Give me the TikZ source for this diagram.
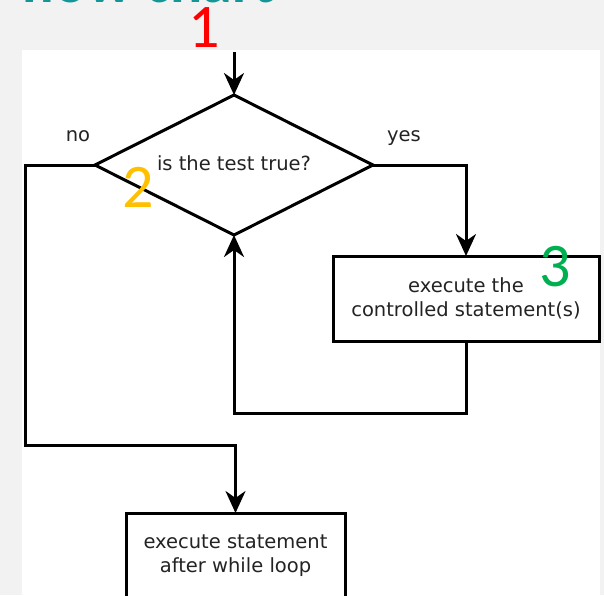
\documentclass[tikz,border=0pt]{standalone}
\usepackage{fontspec}
\setmainfont{DejaVu Sans}
\newfontfamily\digitfont{Carlito}
\usetikzlibrary{shapes.geometric,arrows.meta}
\definecolor{slideteal}{RGB}{20,150,150}
\definecolor{numred}{RGB}{255,0,0}
\definecolor{numorange}{RGB}{255,192,0}
\definecolor{numgreen}{RGB}{0,176,80}
\definecolor{boxtext}{RGB}{35,35,35}

\begin{document}
\begin{tikzpicture}[x=1pt,y=-1pt,
  flowline/.style={line width=3pt},
  flowarrow/.style={flowline,-{Stealth[length=22pt,width=20pt,inset=7pt]}},
  decision/.style={diamond,aspect=2,draw,line width=3pt,inner sep=0pt,outer sep=0pt,
    minimum width=278pt,minimum height=140pt,font=\fontsize{19.5}{24}\selectfont,text=boxtext},
  stepbox/.style={rectangle,draw,line width=3pt,outer sep=0pt,minimum height=85pt,
    align=center,font=\fontsize{19.5}{24}\selectfont,text=boxtext},
  branch/.style={anchor=base,font=\fontsize{19.5}{24}\selectfont,text=boxtext},
  marker/.style={font=\digitfont\fontsize{62}{62}\selectfont}]

\useasboundingbox (0,0) rectangle (604,595) ;
\fill [black!5] (0,0) rectangle (604,595) ;
\fill [white] (22,50) rectangle (600,595) ;

%slide title, cut off at the top
\begin{scope}
\clip (0,0) rectangle (604,50) ;
\node [anchor=base east,font=\digitfont\bfseries\fontsize{60}{60}\selectfont,text=slideteal] (title) at (278,2.5) {flow chart} ;
\end{scope}

\node [decision] (test) at (234,165) {\raisebox{-5.5pt}[0pt][0pt]{is the test true?}} ;
\node [stepbox,minimum width=266pt] (body) at (466,298.5) {execute the\\controlled statement(s)} ;
\node [stepbox,minimum width=219pt] (after) at (235.5,555.5) {execute statement\\after while loop} ;

\node [branch] (nolabel) at (78,141) {no} ;
\node [branch] (yeslabel) at (404,141) {yes} ;

%connectors
\coordinate (entry) at (234,52) ;
\coordinate (loopback) at (350,413) ;
\coordinate (exitturn) at (25,445) ;
\draw [flowarrow] (entry) -- (test.north) ;
\draw [flowarrow] (test.east) -| (body.north) ;
\draw [flowarrow] (body.south) |- (loopback) -| (test.south) ;
\draw [flowarrow] (test.west) -| (exitturn) -| (after.north) ;

%step numbers
\node [marker,text=numred] (one) at (204,28) {1} ;
\node [marker,text=numorange] (two) at (138,187) {2} ;
\node [marker,text=numgreen] (three) at (555,267) {3} ;

\end{tikzpicture}
\end{document}
